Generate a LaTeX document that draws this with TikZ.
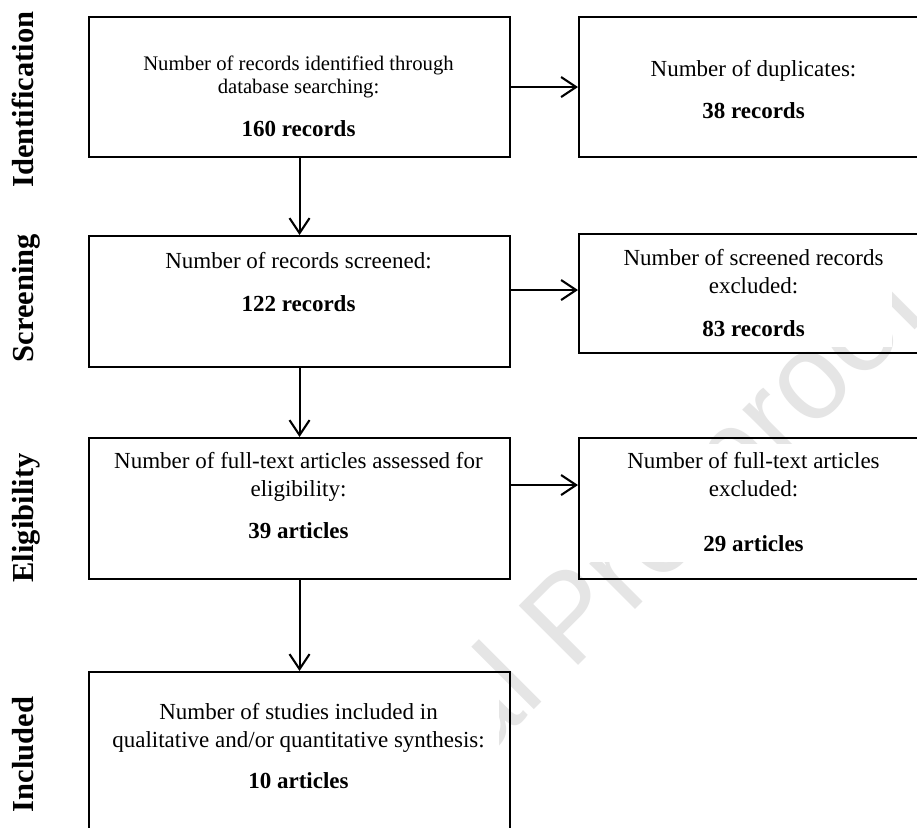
\documentclass[tikz,border=0pt]{standalone}
\usepackage{fontspec}
\setmainfont{Liberation Serif}
\newfontfamily\wmfont{Liberation Sans}
\usetikzlibrary{arrows.meta}
\pgfdeclarelayer{wmlayer}
\pgfdeclarelayer{framelayer}
\pgfsetlayers{wmlayer,framelayer,main}
\begin{document}
\begin{tikzpicture}[x=1pt,y=-1pt,
  box/.style={draw, line width=2.1pt, anchor=north west, inner sep=0pt},
  lbox/.style={box, minimum width=421pt},
  rbox/.style={box, minimum width=351pt},
  arr/.style={line width=2.1pt, -{Straight Barb[length=15pt,width=20pt]}},
  nt/.style={anchor=base, inner sep=0pt, font=\fontsize{23}{27}\selectfont},
  st/.style={anchor=base, inner sep=0pt, font=\fontsize{20.7}{24}\selectfont},
  bt/.style={anchor=base, inner sep=0pt, font=\bfseries\fontsize{23}{27}\selectfont},
  side/.style={rotate=90, anchor=base, inner sep=0pt, font=\bfseries\fontsize{30.5}{36}\selectfont},
  wm/.style={rotate=45, anchor=base west, inner sep=0pt, text=black!10, font=\wmfont\fontsize{122}{140}\selectfont},
  frame/.style={fill=white, draw=none}
]
\clip (0,0) rectangle (917,827);
\begin{pgfonlayer}{wmlayer}
\fill[white] (0,0) rectangle (917,827);
% watermark
\node[wm] (W) at (265,979.5) {Journal Pre-proof};
\end{pgfonlayer}

% side labels
\node[side] (L1) at (33,99.5) {Identification};
\node[side] (L2) at (33,298) {Screening};
\node[side] (L3) at (33,518) {Eligibility};
\node[side] (L4) at (33,754.5) {Included};

% boxes
\node[lbox, minimum height=140pt] (B1) at (88,16) {};
\node[rbox, minimum height=140pt] (D1) at (578,16) {};
\node[lbox, minimum height=131pt] (B2) at (88,235) {};
\node[rbox, minimum height=119pt] (D2) at (578,233) {};
\node[lbox, minimum height=141pt] (B3) at (88,437) {};
\node[rbox, minimum height=141pt] (D3) at (578,437) {};
\node[lbox, minimum height=180pt] (B4) at (88,671) {};

% white text frames inside the boxes
\begin{pgfonlayer}{framelayer}
\fill[frame] ([shift={(7,7)}]B1.north west) rectangle ([shift={(-7,-7)}]B1.south east);
\fill[frame] ([shift={(7,7)}]D1.north west) rectangle ([shift={(-30,-7)}]D1.south east);
\fill[frame] ([shift={(7,7)}]B2.north west) rectangle ([shift={(-7,-7)}]B2.south east);
\fill[frame] ([shift={(7,7)}]D2.north west) rectangle ([shift={(-39,-7)}]D2.south east);
\fill[frame] ([shift={(7,7)}]B3.north west) rectangle ([shift={(-7,-7)}]B3.south east);
\fill[frame] ([shift={(7,7)}]D3.north west) rectangle ([shift={(-25,-18)}]D3.south east);
\fill[frame] ([shift={(12,12)}]B4.north west) rectangle ([shift={(-12,0)}]B4.south east);
\end{pgfonlayer}

% texts
\node[st] (t11) at (298.5,70) {Number of records identified through};
\node[st] (t12) at (298.5,93) {database searching:};
\node[bt] (t13) at (298.5,136) {160 records};

\node[nt] (d11) at (753.5,76) {Number of duplicates:};
\node[bt] (d12) at (753.5,118) {38 records};

\node[nt] (t21) at (298.5,268) {Number of records screened:};
\node[bt] (t22) at (298.5,311) {122 records};

\node[nt] (d21) at (753.5,265.5) {Number of screened records};
\node[nt] (d22) at (753.5,293) {excluded:};
\node[bt] (d23) at (753.5,336) {83 records};

\node[nt] (t31) at (298.5,468) {Number of full-text articles assessed for};
\node[nt] (t32) at (298.5,496) {eligibility:};
\node[bt] (t33) at (298.5,538) {39 articles};

\node[nt] (d31) at (753.5,468) {Number of full-text articles};
\node[nt] (d32) at (753.5,496) {excluded:};
\node[bt] (d33) at (753.5,551) {29 articles};

\node[nt] (t41) at (298.5,719) {Number of studies included in};
\node[nt] (t42) at (298.5,747) {qualitative and/or quantitative synthesis:};
\node[bt] (t43) at (298.5,788) {10 articles};

% connectors
\draw[arr] (B1.south) -- (B2.north);
\draw[arr] (B2.south) -- (B3.north);
\draw[arr] (B3.south) -- (B4.north);
\draw[arr] (B1.east) -- (D1.west);
\draw[arr] ([yshift=11.5pt]B2.east) -- ([yshift=3.5pt]D2.west);
\draw[arr] ([yshift=23.5pt]B3.east) -- ([yshift=23.5pt]D3.west);
\end{tikzpicture}
\end{document}
